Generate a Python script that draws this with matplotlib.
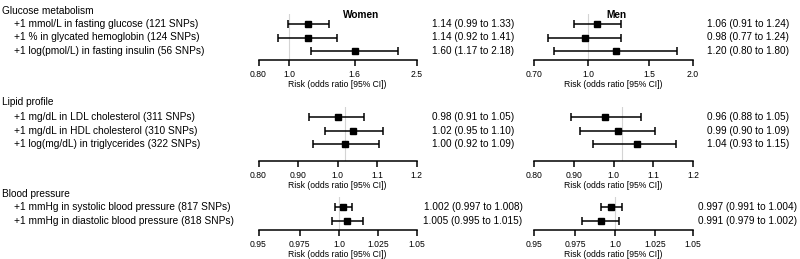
import numpy as np
import matplotlib
matplotlib.use("Agg")
import matplotlib.pyplot as plt

plt.rcParams["font.family"] = ["Liberation Sans", "DejaVu Sans"]

# ---- data -----------------------------------------------------------------
glucose_labels = ["+1 mmol/L in fasting glucose (121 SNPs)",
                  "+1 % in glycated hemoglobin (124 SNPs)",
                  "+1 log(pmol/L) in fasting insulin (56 SNPs)"]
glucose_women = [1.14, 1.14, 1.60]
glucose_women_lo = [0.99, 0.92, 1.17]
glucose_women_hi = [1.33, 1.41, 2.18]
glucose_men = [1.06, 0.98, 1.20]
glucose_men_lo = [0.91, 0.77, 0.80]
glucose_men_hi = [1.24, 1.24, 1.80]

lipid_labels = ["+1 mg/dL in LDL cholesterol (311 SNPs)",
                "+1 mg/dL in HDL cholesterol (310 SNPs)",
                "+1 log(mg/dL) in triglycerides (322 SNPs)"]
lipid_women = [0.98, 1.02, 1.00]
lipid_women_lo = [0.91, 0.95, 0.92]
lipid_women_hi = [1.05, 1.10, 1.09]
lipid_men = [0.96, 0.99, 1.04]
lipid_men_lo = [0.88, 0.90, 0.93]
lipid_men_hi = [1.05, 1.09, 1.15]

bp_labels = ["+1 mmHg in systolic blood pressure (817 SNPs)",
             "+1 mmHg in diastolic blood pressure (818 SNPs)"]
bp_women = [1.002, 1.005]
bp_women_lo = [0.997, 0.995]
bp_women_hi = [1.008, 1.015]
bp_men = [0.997, 0.991]
bp_men_lo = [0.991, 0.979]
bp_men_hi = [1.004, 1.002]

# tick labels per panel
glucose_women_ticks = ["0.80", "1.0", "1.6", "2.5"]
glucose_men_ticks = ["0.70", "1.0", "1.5", "2.0"]
lipid_ticks = ["0.80", "0.90", "1.0", "1.1", "1.2"]
bp_ticks = ["0.95", "0.975", "1.0", "1.025", "1.05"]

# ---- layout (pixels) ------------------------------------------------------
W, H = 800, 259
fig = plt.figure(figsize=(W / 100, H / 100), dpi=100)

ROW = 13.5
AX_X = {"women": (258.5, 416.5), "men": (534, 693)}
VAL_X = {"women": 473, "men": 748}
FS = 7.3
FS_VAL = 7.2
FS_AX = 6.2


def fx(px):
    return px / W


def fy(py):
    return 1 - py / H


def forest(ax, est, lo, hi, xlim, ticks, ticklabels, bottom):
    est, lo, hi = map(np.asarray, (est, lo, hi))
    y = np.arange(len(est))
    ax.set_xscale("log")
    ax.axvline(1.0, color="#d4d4d4", lw=0.8, zorder=0)
    ax.errorbar(est, y, xerr=[est - lo, hi - est], fmt="none", ecolor="black",
                elinewidth=1.1, capsize=3.2, capthick=1.1)
    ax.plot(est, y, "s", color="black", ms=4.6)
    ax.set_xlim(*xlim)
    ax.set_ylim(bottom, -10 / ROW)
    ax.set_xticks(ticks)
    ax.set_xticklabels(ticklabels)
    ax.xaxis.set_minor_locator(matplotlib.ticker.NullLocator())
    ax.tick_params(axis="x", direction="out", length=4, width=1.1,
                   labelsize=FS_AX, pad=3)
    ax.set_yticks([])
    for s in ("top", "left", "right"):
        ax.spines[s].set_visible(False)
    ax.spines["bottom"].set_linewidth(1.1)
    ax.patch.set_alpha(0)
    ax.set_xlabel("Risk (odds ratio [95% CI])", fontsize=FS_AX, labelpad=1.2)


def section(title, labels, header_y, row0, spine_y, panels, fmt):
    fig.text(fx(2.5), fy(header_y), title, fontsize=FS, va="center")
    for i, lab in enumerate(labels):
        fig.text(fx(14), fy(row0 + i * ROW), lab, fontsize=FS, va="center")
    top = row0 - 10
    bottom = (spine_y - row0) / ROW
    for side, (est, lo, hi, xlim, ticks, tl) in panels.items():
        x0, x1 = AX_X[side]
        ax = fig.add_axes([fx(x0), fy(spine_y), fx(x1 - x0), (spine_y - top) / H])
        forest(ax, est, lo, hi, xlim, ticks, tl, bottom)
        for i in range(len(est)):
            txt = f"{est[i]:{fmt}} ({lo[i]:{fmt}} to {hi[i]:{fmt}})"
            fig.text(fx(VAL_X[side]), fy(row0 + i * ROW), txt, fontsize=FS_VAL,
                     ha="center", va="center")


# lipid axis ticks are evenly spaced along the axis in the original
lipid_tick_pos = np.geomspace(0.8, 1.2, 5)

section("Glucose metabolism", glucose_labels, 11, 24, 60, {
    "women": (glucose_women, glucose_women_lo, glucose_women_hi, (0.8, 2.5),
              [0.8, 1.0, 1.6, 2.5], glucose_women_ticks),
    "men": (glucose_men, glucose_men_lo, glucose_men_hi, (0.7, 2.0),
            [0.7, 1.0, 1.5, 2.0], glucose_men_ticks),
}, ".2f")

section("Lipid profile", lipid_labels, 102, 117, 161, {
    "women": (lipid_women, lipid_women_lo, lipid_women_hi, (0.8, 1.2),
              lipid_tick_pos, lipid_ticks),
    "men": (lipid_men, lipid_men_lo, lipid_men_hi, (0.8, 1.2),
            lipid_tick_pos, lipid_ticks),
}, ".2f")

section("Blood pressure", bp_labels, 194, 207, 230, {
    "women": (bp_women, bp_women_lo, bp_women_hi, (0.95, 1.05),
              [0.95, 0.975, 1.0, 1.025, 1.05], bp_ticks),
    "men": (bp_men, bp_men_lo, bp_men_hi, (0.95, 1.05),
            [0.95, 0.975, 1.0, 1.025, 1.05], bp_ticks),
}, ".3f")

fig.text(fx(361), fy(15), "Women", fontsize=FS, fontweight="bold",
         ha="center", va="center")
fig.text(fx(616), fy(15), "Men", fontsize=FS, fontweight="bold",
         ha="center", va="center")

fig.savefig("out.png", dpi=100)
